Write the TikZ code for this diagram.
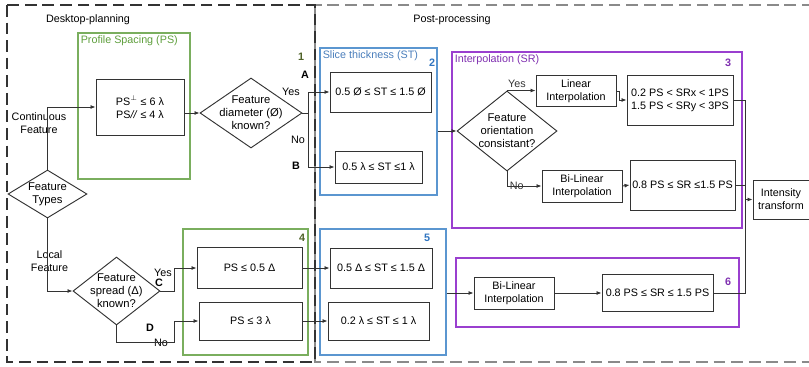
\documentclass[tikz,border=0pt]{standalone}
\usepackage{fontspec}
\setmainfont{Liberation Sans}
\usepackage{xcolor}
\usepackage{tikz}
\usetikzlibrary{positioning, shapes.geometric, arrows.meta, calc, fit}
\definecolor{fcInk}{HTML}{333333}
\definecolor{fcZone}{HTML}{8A8A8A}
\definecolor{fcGreen}{HTML}{7AAE5E}
\definecolor{fcGreenText}{HTML}{5E9E3C}
\definecolor{fcOlive}{HTML}{4F6228}
\definecolor{fcBlue}{HTML}{5B96D0}
\definecolor{fcBlueText}{HTML}{4A7EBB}
\definecolor{fcBlueNum}{HTML}{2F74C0}
\definecolor{fcPurple}{HTML}{9A3FCF}
\definecolor{fcPurpleText}{HTML}{7F2FB0}
\newcommand{\fcfont}{\fontsize{9.2}{11}\selectfont}
\newcommand{\fcdiafont}{\fontsize{9.6}{11.2}\selectfont}
\tikzset{
  box/.style={
    rectangle, draw=fcInk, line width=0.8pt,
    fill=white, inner sep=1pt,
    align=center, font=\fcfont
  },
  dia/.style={
    diamond, draw=fcInk, line width=0.8pt,
    fill=white, inner sep=0pt
  },
  diatext/.style={align=center, font=\fcdiafont, inner sep=0pt},
  grp/.style={
    rectangle, draw=#1, line width=1.1pt,
    inner sep=0pt
  },
  grplabel/.style={anchor=north west, inner sep=1pt, font=\fcfont},
  num/.style={font=\fcfont\bfseries, inner sep=0pt},
  tag/.style={font=\fcfont, inner sep=0pt, align=center},
  arr/.style={
    -{Latex[length=1.5mm, width=1.2mm]},
    fcInk, line width=0.7pt
  },
  wire/.style={fcInk, line width=0.7pt},
  zone/.style={dash pattern=on 10pt off 5pt, line width=1pt}
}

\begin{document}
\begin{tikzpicture}[x=0.03cm, y=-0.03cm]
  \useasboundingbox (0,0) rectangle (809,367);
  % the two stages
  \draw[zone, draw=fcZone] (315,5) rectangle (840,362);
  \draw[zone, draw=fcInk] (7,5) rectangle (315,362);
  \node[tag] (tdesk) at (88,20) {Desktop-planning};
  \node[tag] (tpost) at (452,20) {Post-processing};

  % coloured groups
  \node[grp=fcGreen, fit={(78,33) (190,179)}] (g1) {};
  \node[grp=fcBlue, fit={(320,48) (437,195)}] (g2) {};
  \node[grp=fcPurple, fit={(452,52) (742,228)}] (g3) {};
  \node[grp=fcGreen, fit={(183,229) (308,355)}] (g4) {};
  \node[grp=fcBlue, fit={(320,229) (446,355)}] (g5) {};
  \node[grp=fcPurple, fit={(456,258) (739,327)}] (g6) {};
  \node[grplabel, text=fcGreenText] (l1) at ($(g1.north west)+(2,2)$) {Profile Spacing (PS)};
  \node[grplabel, text=fcBlueText] (l2) at ($(g2.north west)+(2,2)$) {Slice thickness (ST)};
  \node[grplabel, text=fcPurpleText] (l3) at ($(g3.north west)+(2,2)$) {Interpolation (SR)};
  \node[num, text=fcOlive] (n1) at (301,57) {1};
  \node[num, text=fcBlueNum] (n2) at (432,63) {2};
  \node[num, text=fcPurpleText] (n3) at (728,63) {3};
  \node[num, text=fcOlive] (n4) at (302,238) {4};
  \node[num, text=fcBlueNum] (n5) at (427,238) {5};
  \node[num, text=fcPurpleText] (n6) at (728,282) {6};

  % decisions
  \node[dia, minimum width=2.37cm, minimum height=1.44cm,
    label={[diatext]center:Feature\\Types}] (types) at (47.5,194) {};
  \node[dia, minimum width=3.06cm, minimum height=2.1cm,
    label={[diatext]center:Feature\\diameter (Ø)\\known?}] (diam) at (251,113) {};
  \node[dia, minimum width=2.61cm, minimum height=2.04cm,
    label={[diatext]center:Feature\\spread (Δ)\\known?}] (spread) at (116.5,291) {};
  \node[dia, minimum width=3.0cm, minimum height=2.4cm,
    label={[diatext]center:Feature\\orientation\\consistant?}] (orient) at (507,131) {};

  % boxes
  \node[box, minimum width=2.64cm, minimum height=1.68cm] (ps) at (140,107) {PS$^{\perp}$ ≤ 6 λ\\PS\textit{//} ≤ 4 λ};
  \node[box, minimum width=3.03cm, minimum height=1.2cm] (st1) at (380.5,92) {0.5 Ø ≤ ST ≤ 1.5 Ø};
  \node[box, minimum width=2.61cm, minimum height=0.96cm] (st2) at (378.5,167) {0.5 λ ≤ ST ≤1 λ};
  \node[box, minimum width=2.4cm, minimum height=0.93cm] (lin) at (576,91) {Linear\\Interpolation};
  \node[box, minimum width=3.18cm, minimum height=1.5cm] (sr1) at (680,100) {0.2 PS < SRx < 1PS\\1.5 PS < SRy < 3PS};
  \node[box, minimum width=2.4cm, minimum height=0.96cm] (bil1) at (582,186) {Bi-Linear\\Interpolation};
  \node[box, minimum width=3.15cm, minimum height=1.5cm] (sr2) at (682.5,185) {0.8 PS ≤ SR ≤1.5 PS};
  \node[box, minimum width=1.68cm, minimum height=1.17cm] (it) at (781,199.5) {Intensity\\transform};
  \node[box, minimum width=3.15cm, minimum height=1.23cm] (psd) at (249.5,268) {PS ≤ 0.5 Δ};
  \node[box, minimum width=3.09cm, minimum height=1.14cm] (ps3) at (250.5,321) {PS ≤ 3 λ};
  \node[box, minimum width=3.06cm, minimum height=1.2cm] (st3) at (381,268) {0.5 Δ ≤ ST ≤ 1.5 Δ};
  \node[box, minimum width=3.03cm, minimum height=1.14cm] (st4) at (378.5,321) {0.2 λ ≤ ST ≤ 1 λ};
  \node[box, minimum width=2.4cm, minimum height=0.96cm] (bil2) at (514,293) {Bi-Linear\\Interpolation};
  \node[box, minimum width=3.33cm, minimum height=1.11cm] (sr3) at (657.5,293) {0.8 PS ≤ SR ≤ 1.5 PS};

  % branch labels
  \node[tag] (tcont) at (39,123.5) {Continuous\\Feature};
  \node[tag] (tlocal) at (49.5,261.5) {Local\\Feature};
  \node[tag] (yes1) at (291,92) {Yes};
  \node[tag] (no1) at (298,140) {No};
  \node[num] (ta) at (305,75) {A};
  \node[num] (tb) at (296,166) {B};
  \node[tag] (yes3) at (163,273) {Yes};
  \node[num] (tc) at (159,283) {C};
  \node[num] (td) at (150,328) {D};
  \node[tag] (no3) at (161,343) {No};

  % connectors, desktop side
  \draw[arr] (types.north) |- (ps.west);
  \draw[arr] (types.south) |- (spread.west);
  \draw[arr] (ps.east |- diam.west) -- (diam.west);
  \draw[arr] (diam.east) -- ++(6,0) |- (st1.west);
  \draw[arr] (diam.east) -- ++(6,0) |- (st2.west);
  \draw[arr] (spread.east) -- ++(14,0) |- (psd.west);
  \draw[arr] (spread.south) -- ++(0,17) -- ++(58,0) |- (ps3.west);
  \draw[arr] (psd.east) -- (st3.west);
  \draw[arr] (ps3.east) -- (st4.west);

  % connectors, post-processing side
  \draw[arr] (g2.east |- orient.west) -- (orient.west);
  \draw[arr] (orient.north) -- (orient.north -| lin.west) node[tag, pos=0.35, above=2pt] (yes2) {Yes};
  \draw[arr] (orient.south) |- (bil1.west) node[tag, pos=0.64] (no2) {No};
  \draw[arr] (lin.east) -- ++(3,0) |- (sr1.west);
  \draw[arr] (bil1.east) -- (sr2.west);
  \draw[arr] (g5.east |- bil2.west) -- (bil2.west);
  \draw[arr] (bil2.east) -- (sr3.west);
  \coordinate (join) at (745,199.5);
  \draw[wire] (sr1.east) -| (join);
  \draw[wire] (sr3.east) -| (join);
  \draw[wire] (sr2.east) -- (sr2.east -| join);
  \draw[arr] (join) -- (it.west);
\end{tikzpicture}
\end{document}
